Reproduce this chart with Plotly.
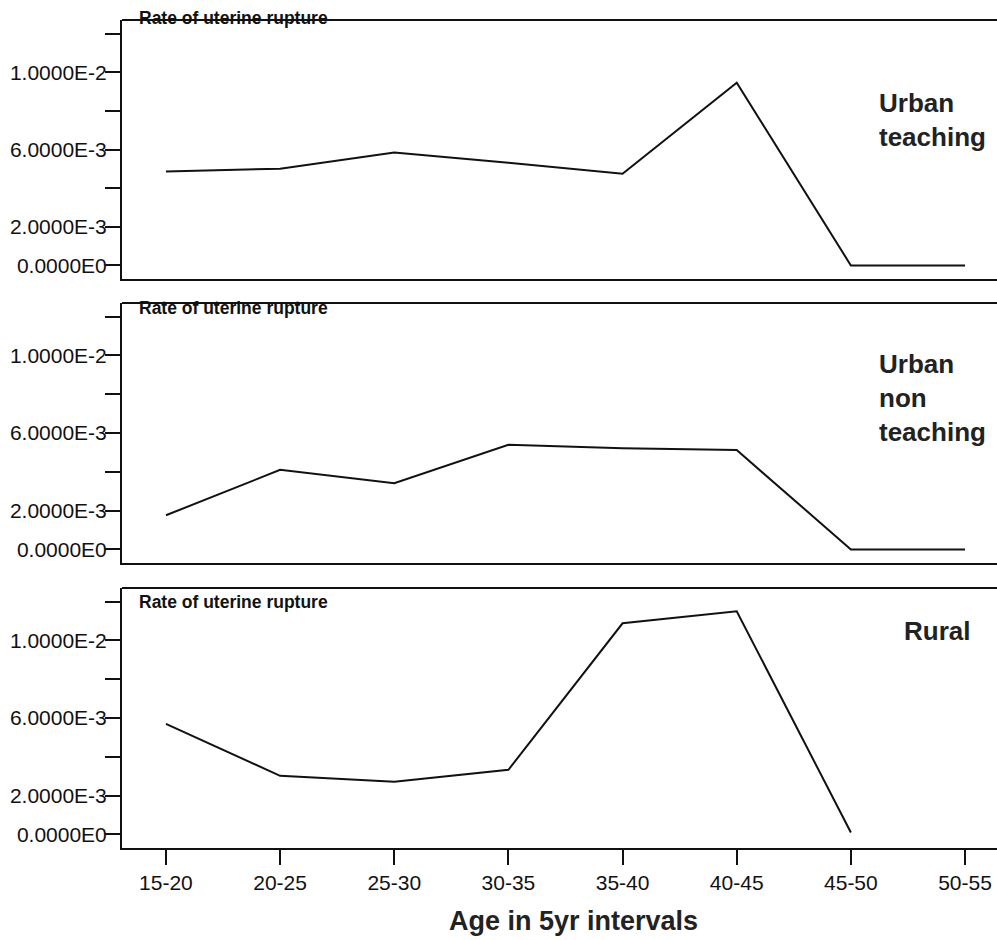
import plotly.graph_objects as go
from plotly.subplots import make_subplots

# ---- data ----
age_groups = ["15-20", "20-25", "25-30", "30-35", "35-40", "40-45", "45-50", "50-55"]
urban_teaching = [0.00486, 0.00501, 0.00584, 0.00532, 0.00475, 0.00946, 0.0, 0.0]
urban_non_teaching = [0.00176, 0.00410, 0.00341, 0.00539, 0.00522, 0.00512, 0.0, 0.0]
rural = [0.00570, 0.00302, 0.00271, 0.00333, 0.01088, 0.01150, 0.0001, None]

panel_labels = ["Urban<br>teaching", "Urban<br>non<br>teaching", "Rural"]
y_title = "Rate of uterine rupture"
x_title = "Age in 5yr intervals"
y_tickvals = [0.0, 0.002, 0.004, 0.006, 0.008, 0.010, 0.012]
y_ticktext = ["0.0000E0", "2.0000E-3", "", "6.0000E-3", "", "1.0000E-2", ""]

W, H = 997, 940
FONT = "Liberation Sans, Arial, sans-serif"

def py(p):
    return 1 - p / H

# pixel boxes (top, bottom) of each panel
boxes = [(20, 279), (303, 563), (588, 848)]
series = [urban_teaching, urban_non_teaching, rural]

fig = make_subplots(rows=3, cols=1, shared_xaxes=False, vertical_spacing=0.02)

x_left = 122 / W
for i, (vals, (top, bot)) in enumerate(zip(series, boxes)):
    r = i + 1
    fig.add_trace(go.Scatter(x=age_groups, y=vals, mode="lines",
                             line=dict(color="#111111", width=2),
                             showlegend=False, connectgaps=False), row=r, col=1)
    xa = "xaxis" if r == 1 else f"xaxis{r}"
    ya = "yaxis" if r == 1 else f"yaxis{r}"
    fig.layout[xa].update(
        domain=[x_left, 1], range=[-0.385, 7.28], type="category",
        categoryorder="array", categoryarray=age_groups,
        showline=True, linecolor="#111111", linewidth=2, mirror=False,
        showgrid=False, zeroline=False,
        ticks="outside" if r == 3 else "", ticklen=15, tickwidth=2, tickcolor="#111111",
        showticklabels=(r == 3),
        tickfont=dict(family=FONT, size=21, color="#111111"),
    )
    fig.layout[ya].update(
        domain=[py(bot), py(top)], range=[-0.0007, 0.0127],
        showline=True, linecolor="#111111", linewidth=2,
        showgrid=False, zeroline=False,
        tickmode="array", tickvals=y_tickvals, ticktext=y_ticktext,
        ticks="outside", ticklen=15, tickwidth=2, tickcolor="#111111",
        ticklabelstandoff=-6,
        tickfont=dict(family=FONT, size=21, color="#111111"),
    )
    # top border line of the box
    fig.add_shape(type="line", xref="paper", yref="paper",
                  x0=x_left, x1=1, y0=py(top), y1=py(top),
                  line=dict(color="#111111", width=2))

# axis-title annotations "Rate of uterine rupture"
title_y = [18, 308, 602]
for ty in title_y:
    fig.add_annotation(text=f"<b>{y_title}</b>", xref="paper", yref="paper",
                       x=137 / W, y=py(ty), xanchor="left", yanchor="middle",
                       showarrow=False, bgcolor="rgba(0,0,0,0)",
                       font=dict(family=FONT, size=17.5, color="#111111"))

# panel labels
label_pos = [(877, 120), (877, 398), (902, 631)]
for txt, (lx, ly) in zip(panel_labels, label_pos):
    fig.add_annotation(text=f"<b>{txt}</b>", xref="paper", yref="paper",
                       x=lx / W, y=py(ly), xanchor="left", yanchor="middle",
                       align="left", showarrow=False,
                       font=dict(family=FONT, size=26, color="#222222"))

# x-axis title
fig.add_annotation(text=f"<b>{x_title}</b>", xref="paper", yref="paper",
                   x=573 / W, y=py(921), xanchor="center", yanchor="middle",
                   showarrow=False, font=dict(family=FONT, size=27, color="#222222"))

fig.update_layout(width=W, height=H, margin=dict(l=0, r=0, t=0, b=0),
                  paper_bgcolor="white", plot_bgcolor="white",
                  font=dict(family=FONT, color="#111111"))

fig.write_html("out.html", config={"displayModeBar": False},
               post_script="document.body.style.margin='0px';"
                           "document.body.style.overflow='hidden';")
